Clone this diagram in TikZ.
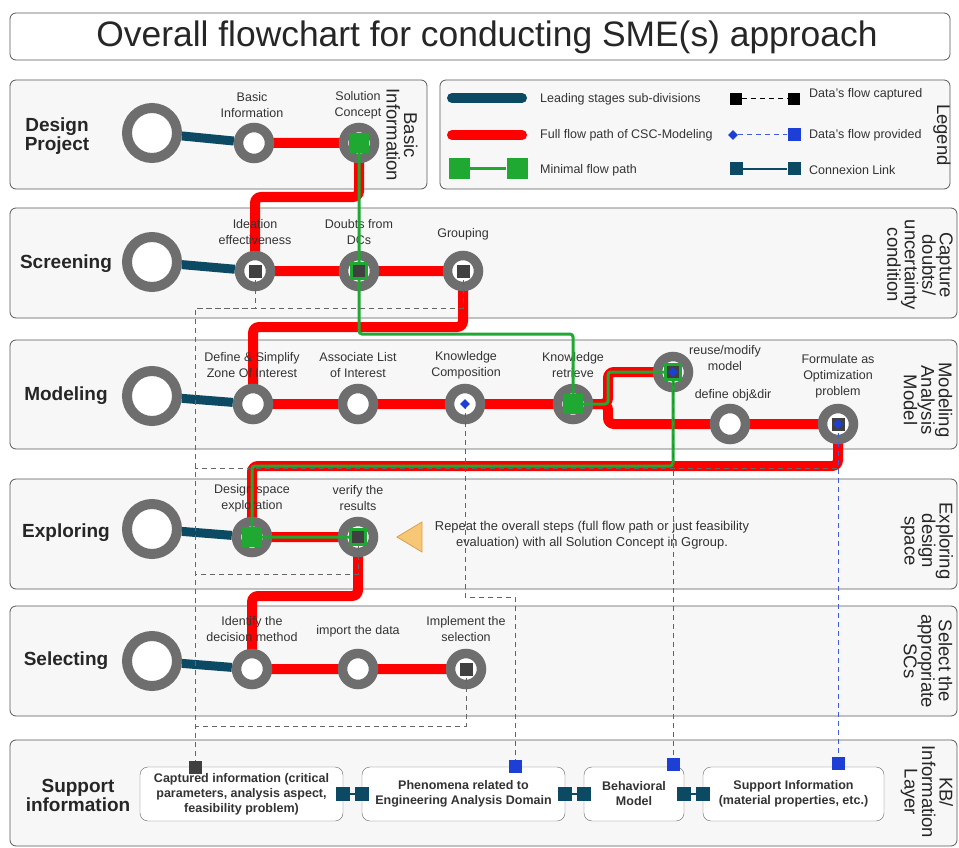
\documentclass[tikz,border=0pt]{standalone}
\usepackage{fontspec}
\setmainfont{Liberation Sans}
\usetikzlibrary{
    positioning,
    shapes.geometric,
    calc,
}
\definecolor{ringgray}{HTML}{6E6E6E}
\definecolor{leadteal}{HTML}{0B4A62}
\definecolor{mingreen}{HTML}{1FA832}
\definecolor{provblue}{HTML}{1E3FD6}
\definecolor{bandfill}{HTML}{F7F7F7}
\definecolor{txtgray}{HTML}{333333}
\definecolor{triorange}{HTML}{F8C775}
\definecolor{triedge}{HTML}{D9A04A}
\pgfdeclarelayer{bands}
\pgfdeclarelayer{flow}
\pgfsetlayers{bands,flow,main}
\lineskiplimit=-20pt
\tikzset{
    % Band and text styles
    band/.style={draw=black!65, fill=bandfill, rounded corners=6pt, line width=0.8pt},
    title/.style={font=\fontsize{35.4}{40}\selectfont, text=black!85},
    stage/.style={font=\bfseries\fontsize{19}{19}\selectfont, align=center, text=black!85},
    side/.style={rotate=-90, align=center, inner sep=0pt, text=black!85,
                 font=\fontsize{18.5}{17.5}\selectfont},
    lbl/.style={font=\fontsize{12.5}{16}\selectfont, align=center, text=txtgray, inner sep=0pt},
    lgtext/.style={font=\fontsize{12.5}{16}\selectfont, text=txtgray, anchor=west, inner sep=0pt},
    % Station styles
    hub/.style={circle, draw=ringgray, line width=10pt, fill=white, minimum size=50pt, inner sep=0pt},
    stn/.style={circle, draw=ringgray, line width=9.5pt, fill=white, minimum size=31pt, inner sep=0pt},
    dsq/.style={rectangle, fill=black!75, minimum size=13pt, inner sep=0pt},
    dsqg/.style={dsq, draw=mingreen, line width=2.5pt, minimum size=15pt},
    gsq/.style={rectangle, fill=mingreen, minimum size=20pt, inner sep=0pt},
    bdia/.style={diamond, fill=provblue, minimum size=10pt, inner sep=0pt},
    bsq/.style={rectangle, fill=provblue, minimum size=13pt, inner sep=0pt},
    link/.style={rectangle, fill=leadteal, minimum size=14pt, inner sep=0pt},
    kb/.style={rectangle, rounded corners=8pt, draw=black!60, fill=white, minimum height=54pt,
               font=\bfseries\fontsize{12.5}{15}\selectfont, align=center, text=txtgray, inner sep=2pt},
    % Line styles
    fullpath/.style={line width=10pt, red, rounded corners=6pt},
    minpath/.style={line width=3pt, mingreen, rounded corners=3pt},
    lead/.style={line width=9pt, leadteal},
    linkline/.style={line width=2.5pt, leadteal},
    captured/.style={draw=black!60, line width=1pt, dash pattern=on 5pt off 4pt},
    provided/.style={draw=provblue!85, line width=1pt, dash pattern=on 5pt off 4pt},
}

\begin{document}
\begin{tikzpicture}[x=1pt, y=-1pt]
    \useasboundingbox (0,0) rectangle (959,848);

    % Bands
    \begin{pgfonlayer}{bands}
        \draw[band, fill=white] (10,13) rectangle (950,60);
        \draw[band] (10,80) rectangle (427,189);
        \draw[band] (440,80) rectangle (950,189);
        \draw[band] (10,208) rectangle (957,318);
        \draw[band] (10,340) rectangle (957,449);
        \draw[band] (10,479) rectangle (957,589);
        \draw[band] (10,606) rectangle (957,716);
        \draw[band] (10,740) rectangle (957,846);
    \end{pgfonlayer}

    \node[title] (title) at (487,37) {Overall flowchart for conducting SME(s) approach};

    % Stage names
    \node[stage] (nmDesign) at (57,136) {Design\\Project};
    \node[stage] (nmScreen) at (66,264) {Screening};
    \node[stage] (nmModel) at (66,396) {Modeling};
    \node[stage] (nmExplore) at (66,533) {Exploring};
    \node[stage] (nmSelect) at (66,661) {Selecting};
    \node[stage] (nmSupport) at (78,795) {Support\\information};

    % Side labels
    \node[side] (sdDesign) at (402,135) {Basic\\Information};
    \node[side] (sdLegend) at (942,135) {Legend};
    \node[side] (sdScreen) at (920,265) {Capture\\doubts/\\uncertainty\\condition};
    \node[side] (sdModel) at (928,400) {Modeling\\Analysis\\Model};
    \node[side] (sdExplore) at (927,541) {Exploring\\design\\space};
    \node[side] (sdSelect) at (928,661) {Select the\\appropriate\\SCs};
    \node[side] (sdSupport) at (927,792) {KB/\\Information\\Layer};

    % Hubs
    \node[hub] (hDesign) at (152,133) {};
    \node[hub] (hScreen) at (152,262) {};
    \node[hub] (hModel) at (152,396) {};
    \node[hub] (hExplore) at (152,529) {};
    \node[hub] (hSelect) at (152,661) {};

    % Stations
    \node[stn] (bi) at (254,143) {};
    \node[stn] (sc) at (359,143) {};
    \node[stn] (ie) at (255,271) {};
    \node[stn] (dc) at (359,271) {};
    \node[stn] (grp) at (463,271) {};
    \node[stn] (dsz) at (253,404) {};
    \node[stn] (al) at (358,404) {};
    \node[stn] (kc) at (465,404) {};
    \node[stn] (kr) at (573,404) {};
    \node[stn] (rm) at (673,372) {};
    \node[stn] (doj) at (730,424) {};
    \node[stn] (fml) at (838,424) {};
    \node[stn] (dse) at (252,537) {};
    \node[stn] (vr) at (358,537) {};
    \node[stn] (idm) at (252,669) {};
    \node[stn] (imp) at (358,669) {};
    \node[stn] (impl) at (466,669) {};

    % Station labels
    \node[lbl] (lbBi) at (252,105) {Basic\\Information};
    \node[lbl] (lbSc) at (358,105) {Solution\\Concept};
    \node[lbl] (lbIe) at (255,232) {Ideation\\effectiveness};
    \node[lbl] (lbDc) at (359,232) {Doubts from\\DCs};
    \node[lbl] (lbGrp) at (463,234) {Grouping};
    \node[lbl] (lbDsz) at (252,365) {Define \& Simplify\\Zone Of Interest};
    \node[lbl] (lbAl) at (358,365) {Associate List\\of Interest};
    \node[lbl] (lbKc) at (466,365) {Knowledge\\Composition};
    \node[lbl] (lbKr) at (573,365) {Knowledge\\retrieve};
    \node[lbl] (lbRm) at (725,358) {reuse/modify\\model};
    \node[lbl] (lbDoj) at (733,395) {define obj\&dir};
    \node[lbl] (lbFml) at (838,376) {Formulate as\\Optimization\\problem};
    \node[lbl] (lbDse) at (252,498) {Design space\\exploration};
    \node[lbl] (lbVr) at (358,498) {verify the\\results};
    \node[lbl] (lbIdm) at (252,629) {Identify the\\decision method};
    \node[lbl] (lbImp) at (358,631) {import the data};
    \node[lbl] (lbImpl) at (466,629) {Implement the\\selection};

    % Repeat note
    \draw[fill=triorange, draw=triedge, line width=0.8pt] (397,537) -- (422,522) -- (422,552) -- cycle;
    \node[lbl, font=\fontsize{12.9}{16.5}\selectfont] (repTxt) at (592,535) {Repeat the overall steps (full flow path or just feasibility\\evaluation) with all Solution Concept in Ggroup.};

    % Leading and full flow lines
    \begin{pgfonlayer}{flow}
        \draw[lead] (hDesign) -- (bi);
        \draw[lead] (hScreen) -- (ie);
        \draw[lead] (hModel) -- (dsz);
        \draw[lead] (hExplore) -- (dse);
        \draw[lead] (hSelect) -- (idm);
        \draw[fullpath] (bi.center) -- (sc.center) -- (sc.center |- 0,197) -| (ie.center)
            -- (dc.center) -- (grp.center) -- (grp.center |- 0,327) -| (dsz.center)
            -- (al.center) -- (kc.center) -- (kr.center) -- ++(35,0) |- (rm.center);
        \draw[fullpath] (kr.center) -- ++(35,0) |- (doj.center) -- (fml.center)
            -- (fml.center |- 0,466) -| (dse.center) -- (vr.center)
            -- (vr.center |- 0,596) -| (idm.center) -- (imp.center) -- (impl.center);
    \end{pgfonlayer}

    % Minimal flow path
    \draw[minpath] (sc.center) -- (dc.center) -- (dc.center |- 0,334) -| (kr.center)
        -- ++(35,0) |- (rm.center) -- (rm.center |- 0,466) -| (dse.center) -- (vr.center);

    % Support information layer
    \node[kb, minimum width=203pt] (kbCap) at (241.5,794) {Captured information (critical\\parameters, analysis aspect,\\feasibility problem)};
    \node[kb, minimum width=203pt] (kbPhen) at (463.5,794) {Phenomena related to\\Engineering Analysis Domain};
    \node[kb, minimum width=100pt] (kbBeh) at (634,794) {Behavioral\\Model};
    \node[kb, minimum width=181pt] (kbSup) at (793.5,794) {Support Information\\(material properties, etc.)};
    \coordinate (cj) at (195,308);

    % Data's flow captured
    \draw[captured] (ie.center) |- (cj) -- (cj |- 0,767);
    \draw[captured] (grp.center) |- (cj);
    \draw[captured] (fml.center) |- (cj |- 0,468);
    \draw[captured] (vr.center) |- (cj |- 0,574);
    \draw[captured] (impl.center) |- (cj |- 0,726);

    % Data's flow provided
    \draw[provided] (kc.center) |- (515,597) -- (515,766);
    \draw[provided] (rm.center) -- (rm.center |- 0,764);
    \draw[provided] (fml.center) -- (fml.center |- 0,763);

    % Markers on stations
    \node[gsq] (mkSc) at (sc) {};
    \node[dsq] (mkIe) at (ie) {};
    \node[dsqg] (mkDc) at (dc) {};
    \node[dsq] (mkGrp) at (grp) {};
    \node[bdia] (mkKc) at (kc) {};
    \node[gsq] (mkKr) at (kr) {};
    \node[dsqg] (mkRm) at (rm) {};
    \node[bdia] (mkRmb) at (rm) {};
    \node[dsq] (mkFml) at (fml) {};
    \node[bdia] (mkFmlb) at (fml) {};
    \node[gsq] (mkDse) at (dse) {};
    \node[dsqg] (mkVr) at (vr) {};
    \node[dsq] (mkImpl) at (impl) {};

    % Support squares and links
    \node[dsq] (sqCap) at (195,767) {};
    \node[bsq] (sqPhen) at (515,766) {};
    \node[bsq] (sqBeh) at (673,764) {};
    \node[bsq] (sqSup) at (838,763) {};
    \node[link] (lkA1) at (kbCap.east) {};
    \node[link] (lkA2) at (kbPhen.west) {};
    \node[link] (lkB1) at (kbPhen.east) {};
    \node[link] (lkB2) at (kbBeh.west) {};
    \node[link] (lkC1) at (kbBeh.east) {};
    \node[link] (lkC2) at (kbSup.west) {};
    \draw[linkline] (lkA1) -- (lkA2);
    \draw[linkline] (lkB1) -- (lkB2);
    \draw[linkline] (lkC1) -- (lkC2);

    % Legend
    \coordinate (lgLa) at (452,98);
    \coordinate (lgLb) at (522,98);
    \coordinate (lgFa) at (452,135);
    \coordinate (lgFb) at (522,135);
    \draw[lead, line width=10pt, line cap=round] (lgLa) -- (lgLb);
    \draw[fullpath, line cap=round] (lgFa) -- (lgFb);
    \node[gsq, minimum size=21pt] (lgGa) at (459,169) {};
    \node[gsq, minimum size=21pt] (lgGb) at (517,169) {};
    \draw[minpath] (lgGa) -- (lgGb);
    \node[lgtext] (lgT1) at (540,99) {Leading stages sub-divisions};
    \node[lgtext] (lgT2) at (540,135) {Full flow path of CSC-Modeling};
    \node[lgtext] (lgT3) at (540,170) {Minimal flow path};

    \node[dsq, fill=black, minimum size=12pt] (lgCa) at (736,99) {};
    \node[dsq, fill=black, minimum size=12pt] (lgCb) at (794,99) {};
    \draw[captured, draw=black] (lgCa) -- (lgCb);
    \node[bdia] (lgPa) at (733,135) {};
    \node[bsq] (lgPb) at (794,135) {};
    \draw[provided] (lgPa) -- (lgPb);
    \node[link, minimum size=13pt] (lgKa) at (736,169) {};
    \node[link, minimum size=13pt] (lgKb) at (794,169) {};
    \draw[linkline] (lgKa) -- (lgKb);
    \node[lgtext] (lgT4) at (809,94) {Data's flow captured};
    \node[lgtext] (lgT5) at (809,135) {Data's flow provided};
    \node[lgtext] (lgT6) at (809,170) {Connexion Link};
\end{tikzpicture}
\end{document}
